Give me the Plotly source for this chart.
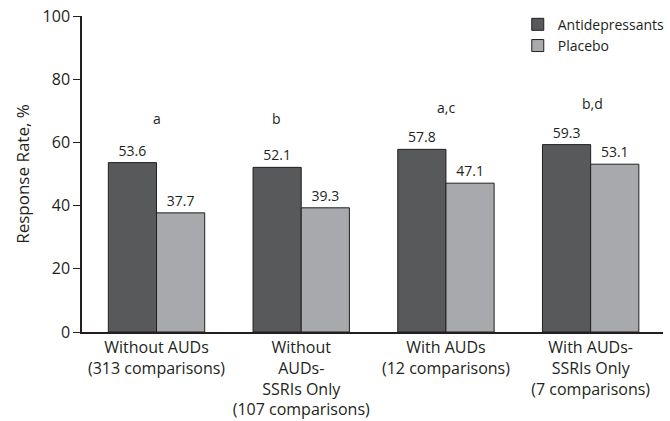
import plotly.graph_objects as go

categories = [
    "Without AUDs<br>(313 comparisons)",
    "Without<br>AUDs-<br>SSRIs Only<br>(107 comparisons)",
    "With AUDs<br>(12 comparisons)",
    "With AUDs-<br>SSRIs Only<br>(7 comparisons)",
]
antidepressants = [53.6, 52.1, 57.8, 59.3]
placebo = [37.7, 39.3, 47.1, 53.1]

# significance markers: (category position, height, text)
sig_x = [0.0, 0.83, 2.0, 3.01]
sig_y = [67.5, 67.5, 71.2, 72.4]
sig_text = ["a", "b", "a,c", "b,d"]

FONT = "Open Sans"
INK = "#231f20"
xs = list(range(len(categories)))

fig = go.Figure()
fig.add_trace(go.Bar(
    name="Antidepressants", x=xs, y=antidepressants,
    marker=dict(color="#58595b", line=dict(color=INK, width=1)),
    text=[f"{v:.1f}" for v in antidepressants], textposition="outside",
    textfont=dict(family=FONT, size=14, color=INK), cliponaxis=False,
))
fig.add_trace(go.Bar(
    name="Placebo", x=xs, y=placebo,
    marker=dict(color="#a7a9ac", line=dict(color=INK, width=1)),
    text=[f"{v:.1f}" for v in placebo], textposition="outside",
    textfont=dict(family=FONT, size=14, color=INK), cliponaxis=False,
))

for x, y, t in zip(sig_x, sig_y, sig_text):
    fig.add_annotation(x=x, y=y, text=t, showarrow=False,
                       font=dict(family=FONT, size=14, color=INK))

fig.update_layout(
    width=670, height=421,
    margin=dict(l=82, r=7, t=16, b=89, autoexpand=False),
    paper_bgcolor="white", plot_bgcolor="white",
    barmode="group", bargap=0.334, bargroupgap=0,
    font=dict(family=FONT, size=14, color=INK),
    legend=dict(x=0.75, y=1.023, xanchor="left", yanchor="top",
                font=dict(family=FONT, size=14, color=INK),
                bgcolor="rgba(0,0,0,0)", tracegroupgap=0, itemwidth=30),
    showlegend=True,
)
fig.update_xaxes(
    range=[-0.515, 3.5], tickmode="array", tickvals=xs, ticktext=categories,
    showline=True, linecolor=INK, linewidth=1.5, ticks="",
    showgrid=False, zeroline=False, automargin=False,
    tickfont=dict(family=FONT, size=16, color=INK),
)
fig.update_yaxes(
    range=[0, 100], tickvals=[0, 20, 40, 60, 80, 100],
    showline=True, linecolor=INK, linewidth=1.5,
    ticks="outside", ticklen=7, tickcolor=INK, tickwidth=1.2,
    showgrid=False, zeroline=False, automargin=False,
    title=dict(text="Response Rate, %", font=dict(family=FONT, size=17, color=INK), standoff=9),
    tickfont=dict(family=FONT, size=16, color=INK),
)

fig.write_html("out.html")
